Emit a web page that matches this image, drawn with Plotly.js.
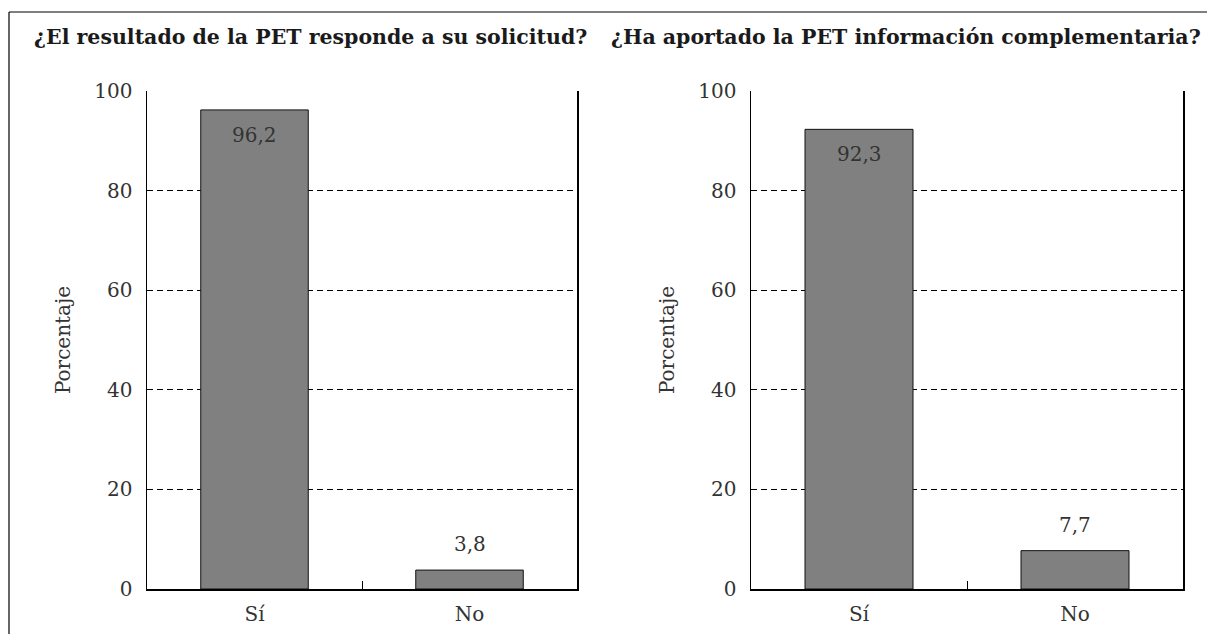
<!DOCTYPE html>
<html>
<head>
<meta charset="utf-8">
<script src="https://cdn.plot.ly/plotly-3.0.1.min.js"></script>
<style>html,body{margin:0;padding:0;background:#fff;}#chart{width:1207px;height:634px;}</style>
</head>
<body>
<div id="chart"></div>
<script>
const categories = ["Sí", "No"];
const valuesResponde = [96.2, 3.8];
const valuesInformacion = [92.3, 7.7];
const titleLeft = "¿El resultado de la PET responde a su solicitud?";
const titleRight = "¿Ha aportado la PET información complementaria?";
const yTitle = "Porcentaje";
const yTicks = [0, 20, 40, 60, 80, 100];

const W = 1207, H = 634;
const px = x => x / W;
const py = y => (H - y) / H;

const tickFont = {family: "DejaVu Serif, serif", size: 20, color: "#333"};

function barTrace(vals, xa, ya) {
  return {
    type: "bar", x: categories, y: vals, xaxis: xa, yaxis: ya,
    width: 0.5,
    marker: {color: "#808080", line: {color: "#111", width: 1}},
    hoverinfo: "skip"
  };
}

function labelAnnotations(vals, xa, ya) {
  return vals.map((v, i) => ({
    xref: xa, yref: ya, x: categories[i], y: v,
    text: v.toFixed(1).replace(".", ","),
    showarrow: false, xanchor: "center", yanchor: "middle",
    yshift: v > 50 ? -25 : 26,
    font: tickFont
  }));
}

function xAxis(domain, anchor) {
  return {
    domain: domain, anchor: anchor,
    showline: true, linecolor: "#000", linewidth: 1.5, mirror: false,
    ticks: "inside", ticklen: 8, tickcolor: "#000", tickson: "boundaries",
    showgrid: false, tickfont: tickFont, ticklabelstandoff: 6, fixedrange: true
  };
}
function yAxis(anchor) {
  return {
    domain: [py(589), py(91)], anchor: anchor, range: [0, 100],
    tickvals: yTicks, ticktext: yTicks.map(String),
    showline: true, linecolor: "#000", linewidth: 1.5, mirror: true,
    ticks: "inside", ticklen: 5, tickcolor: "#000",
    showgrid: true, gridcolor: "#000", gridwidth: 1, griddash: "6px,4px",
    zeroline: false, tickfont: tickFont, ticklabelstandoff: 9,
    title: {text: yTitle, font: tickFont, standoff: 18}, fixedrange: true
  };
}

const titleFont = {family: "DejaVu Serif, serif", size: 20.5, color: "#1a1a1a"};

const layout = {
  width: W, height: H,
  margin: {l: 0, r: 0, t: 0, b: 0},
  paper_bgcolor: "#fff", plot_bgcolor: "#fff",
  showlegend: false,
  xaxis: xAxis([px(147), px(577)], "y"),
  yaxis: yAxis("x"),
  xaxis2: xAxis([px(751), px(1183)], "y2"),
  yaxis2: yAxis("x2"),
  shapes: [
    {type: "line", xref: "paper", yref: "paper", x0: px(9), x1: 1.01, y0: py(12), y1: py(12), line: {color: "#000", width: 1.2}},
    {type: "line", xref: "paper", yref: "paper", x0: px(9), x1: px(9), y0: py(12), y1: -0.01, line: {color: "#000", width: 1.2}}
  ],
  annotations: [
    {text: "<b>" + titleLeft + "</b>", xref: "paper", yref: "paper", x: px(310), y: py(37), xanchor: "center", yanchor: "middle", showarrow: false, font: titleFont},
    {text: "<b>" + titleRight + "</b>", xref: "paper", yref: "paper", x: px(906), y: py(37), xanchor: "center", yanchor: "middle", showarrow: false, font: titleFont}
  ].concat(labelAnnotations(valuesResponde, "x", "y"), labelAnnotations(valuesInformacion, "x2", "y2"))
};

Plotly.newPlot("chart", [barTrace(valuesResponde, "x", "y"), barTrace(valuesInformacion, "x2", "y2")], layout, {displayModeBar: false, staticPlot: true});
</script>
</body>
</html>
